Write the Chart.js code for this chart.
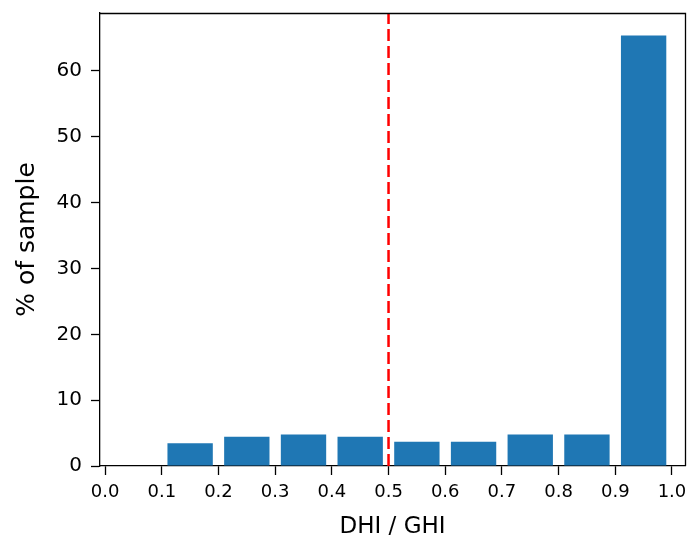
<!DOCTYPE html>
<html>
<head>
<meta charset="utf-8">
<script src="https://cdn.jsdelivr.net/npm/chart.js@4/dist/chart.umd.min.js"></script>
<style>
  html, body { margin: 0; padding: 0; background: #fff; }
  #wrap { width: 689px; height: 538px; }
</style>
</head>
<body>
<div id="wrap"><canvas id="c" width="689" height="538"></canvas></div>
<script>
// histogram bin centres and heights (% of sample)
const binCenters = [0.05, 0.15, 0.25, 0.35, 0.45, 0.55, 0.65, 0.75, 0.85, 0.95];
const binValues = [0, 3.45, 4.45, 4.8, 4.45, 3.7, 3.7, 4.8, 4.8, 65.4];

const xTicks = [0.0, 0.1, 0.2, 0.3, 0.4, 0.5, 0.6, 0.7, 0.8, 0.9, 1.0];
const yTicks = [0, 10, 20, 30, 40, 50, 60];

const refX = 0.5; // dashed threshold line
const xMin = -0.009, xMax = 1.023;
const yMax = 68.8;

// top and right spines
const boxPlugin = {
  id: 'box',
  afterDraw(chart) {
    const { ctx, chartArea: a } = chart;
    ctx.save();
    ctx.strokeStyle = '#000';
    ctx.lineWidth = 1.3;
    ctx.beginPath();
    ctx.moveTo(a.left, a.top + 0.5);
    ctx.lineTo(a.right + 0.5, a.top + 0.5);
    ctx.lineTo(a.right + 0.5, a.bottom);
    ctx.stroke();
    ctx.restore();
  }
};

const ctx = document.getElementById('c').getContext('2d');
new Chart(ctx, {
  type: 'bar',
  data: {
    datasets: [{
      type: 'bar',
      data: binCenters.map((x, i) => ({ x: x, y: binValues[i] })),
      backgroundColor: '#1f77b4',
      borderWidth: 0,
      barPercentage: 0.8,
      categoryPercentage: 1.0,
      order: 2
    }, {
      type: 'line',
      data: [{ x: refX, y: 0 }, { x: refX, y: yMax }],
      borderColor: '#ff0000',
      borderWidth: 2.5,
      borderDash: [12, 5],
      pointRadius: 0,
      fill: false,
      order: 1
    }]
  },
  options: {
    responsive: false,
    animation: false,
    layout: { padding: { top: 13, right: 4, left: 0, bottom: 0 } },
    plugins: { legend: { display: false }, tooltip: { enabled: false } },
    scales: {
      x: {
        type: 'linear',
        min: xMin,
        max: xMax,
        offset: false,
        grid: { offset: false, drawOnChartArea: false, drawTicks: true, tickLength: 9, tickWidth: 1.3, color: '#000' },
        border: { display: true, color: '#000', width: 1.3 },
        afterBuildTicks: s => { s.ticks = xTicks.map(v => ({ value: v })); },
        afterFit: s => { s.height = 72; s.paddingLeft = 0; s.paddingRight = 0; },
        ticks: {
          maxRotation: 0,
          autoSkip: false,
          padding: 7,
          color: '#000',
          font: { family: 'DejaVu Sans', size: 18 },
          callback: v => v.toFixed(1)
        },
        title: {
          display: true,
          text: 'DHI / GHI',
          color: '#000',
          font: { family: 'DejaVu Sans', size: 23 },
          padding: { top: 4, bottom: -3 }
        }
      },
      y: {
        min: 0,
        max: yMax,
        grid: { drawOnChartArea: false, drawTicks: true, tickLength: 9, tickWidth: 1.3, color: '#000' },
        border: { display: true, color: '#000', width: 1.3 },
        afterBuildTicks: s => { s.ticks = yTicks.map(v => ({ value: v })); },
        afterFit: s => { s.width = 100; s.paddingTop = 0; s.paddingBottom = 0; },
        ticks: {
          padding: 9,
          color: '#000',
          font: { family: 'DejaVu Sans', size: 20 }
        },
        title: {
          display: true,
          text: '% of sample',
          color: '#000',
          font: { family: 'DejaVu Sans', size: 25 },
          padding: { top: 12, bottom: 0 }
        }
      }
    }
  },
  plugins: [boxPlugin]
});
</script>
</body>
</html>
